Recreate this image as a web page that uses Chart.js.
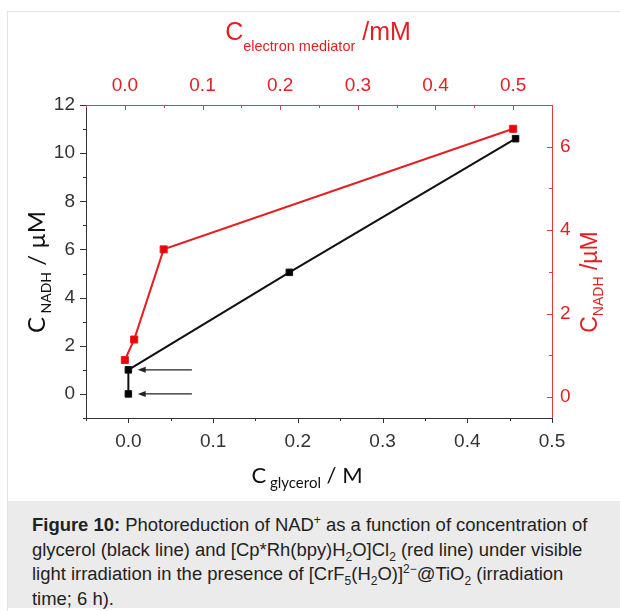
<!DOCTYPE html>
<html>
<head>
<meta charset="utf-8">
<script src="https://cdn.jsdelivr.net/npm/chart.js@4.4.1/dist/chart.umd.min.js"></script>
<style>
  body { margin: 0; background: #fff; width: 620px; height: 611px; position: relative; overflow: hidden;
         font-family: "Liberation Sans", Arial, sans-serif; }
  #frame { position: absolute; left: 7px; top: 11px; width: 620px; height: 600px;
           border-left: 1px solid #e2e2e2; border-top: 1px solid #e2e2e2; }
  #chartBox { position: absolute; left: 0; top: 0; width: 620px; height: 500px; }
  #caption { position: absolute; left: 8px; top: 501px; width: 612px; height: 107px; background: #ebebeb;
             box-sizing: border-box; padding: 12px 0 0 24px; font-size: 18.45px; line-height: 24.5px;
             color: #222; white-space: nowrap; }
  #caption sub, #caption sup { font-size: 12px; line-height: 0; }
</style>
</head>
<body>
<div id="frame"></div>
<div id="chartBox"><canvas id="grafico" width="620" height="500"></canvas></div>
<div id="caption"><b>Figure 10:</b> Photoreduction of NAD<sup>+</sup> as a function of concentration of<br>glycerol (black line) and [Cp*Rh(bpy)H<sub>2</sub>O]Cl<sub>2</sub> (red line) under visible<br>light irradiation in the presence of [CrF<sub>5</sub>(H<sub>2</sub>O)]<sup>2&minus;</sup>@TiO<sub>2</sub> (irradiation<br>time; 6 h).</div>
<script>
// dados
const glycerolConc = [0, 0, 0.19, 0.457];      // M (eixo de baixo)
const nadhGlycerol = [0, 1.0, 5.05, 10.6];      // uM (eixo esquerdo)
const mediatorConc = [0, 0.012, 0.05, 0.5];     // mM (eixo de cima)
const nadhMediator = [0.89, 1.38, 3.54, 6.43];  // uM (eixo direito)

const glycerolTicks = [0, 0.1, 0.2, 0.3, 0.4, 0.5];
const glycerolMinor = [-0.05, 0.05, 0.15, 0.25, 0.35, 0.45];
const mediatorTicks = [0, 0.1, 0.2, 0.3, 0.4, 0.5];
const mediatorMinor = [-0.05, 0.05, 0.15, 0.25, 0.35, 0.45, 0.55];
const nadhLeftTicks = [0, 2, 4, 6, 8, 10, 12];
const nadhLeftMinor = [-1, 1, 3, 5, 7, 9, 11];
const nadhRightTicks = [0, 2, 4, 6];
const nadhRightMinor = [1, 3, 5, 7];

// setas apontando para os dois primeiros pontos pretos
const arrowRows = [1, 0];
const arrowStart = 0.075;
const arrowEnd = 0.011;

const RED = 'rgb(228,30,34)';
const RED_AXIS = 'rgb(222,60,60)';
const DARK = '#333';
const ARIAL = '"Liberation Sans", Arial, sans-serif';
const CALIBRI = 'Lato, "Liberation Sans", sans-serif';

function pts(xs, ys) {
  return xs.map((x, i) => ({ x: x, y: ys[i] }));
}

function marcas(ctx, scale, values, len, dir, color) {
  const area = scale.chart.chartArea;
  ctx.save();
  ctx.strokeStyle = color;
  ctx.lineWidth = 1;
  ctx.beginPath();
  values.forEach(v => {
    const p = Math.round(scale.getPixelForValue(v)) + 0.5;
    if (scale.isHorizontal()) {
      const y0 = scale.position === 'bottom' ? area.bottom : area.top;
      ctx.moveTo(p, y0);
      ctx.lineTo(p, y0 + dir * len);
    } else {
      const x0 = scale.position === 'left' ? area.left : area.right;
      ctx.moveTo(x0, p);
      ctx.lineTo(x0 + dir * len, p);
    }
  });
  ctx.stroke();
  ctx.restore();
}

// texto com subscrito
function textoRico(ctx, parts, x, y, color) {
  let total = 0;
  parts.forEach(p => { ctx.font = p.font; total += ctx.measureText(p.t).width; });
  let cx = x - total / 2;
  ctx.fillStyle = color;
  ctx.textBaseline = 'alphabetic';
  ctx.textAlign = 'left';
  parts.forEach(p => {
    ctx.font = p.font;
    ctx.fillText(p.t, cx, y + (p.dy || 0));
    cx += ctx.measureText(p.t).width;
  });
}

const eixosPlugin = {
  id: 'eixos',
  afterDraw(chart) {
    const ctx = chart.ctx;
    const s = chart.scales;
    marcas(ctx, s.x, glycerolTicks, 5, 1, DARK);
    marcas(ctx, s.x, glycerolMinor, 3, 1, DARK);
    marcas(ctx, s.y, nadhLeftTicks, 6, -1, DARK);
    marcas(ctx, s.y, nadhLeftMinor, 3, -1, DARK);
    marcas(ctx, s.x2, mediatorTicks, 5, 1, RED_AXIS);
    marcas(ctx, s.x2, mediatorMinor, 3, 1, RED_AXIS);
    marcas(ctx, s.y2, nadhRightTicks, 5, -1, RED_AXIS);
    marcas(ctx, s.y2, nadhRightMinor, 3, -1, RED_AXIS);

    // setas
    ctx.save();
    ctx.strokeStyle = '#222';
    ctx.fillStyle = '#222';
    ctx.lineWidth = 1.2;
    arrowRows.forEach(v => {
      const py = s.y.getPixelForValue(v);
      const x1 = s.x.getPixelForValue(arrowStart);
      const x2 = s.x.getPixelForValue(arrowEnd);
      ctx.beginPath();
      ctx.moveTo(x1, py);
      ctx.lineTo(x2 + 6, py);
      ctx.stroke();
      ctx.beginPath();
      ctx.moveTo(x2, py);
      ctx.lineTo(x2 + 8, py - 3);
      ctx.lineTo(x2 + 8, py + 3);
      ctx.closePath();
      ctx.fill();
    });
    ctx.restore();

    // títulos dos eixos
    ctx.save();
    textoRico(ctx, [
      { t: 'C', font: '25px ' + ARIAL },
      { t: 'electron mediator', font: '14.5px ' + ARIAL, dy: 11 },
      { t: ' /mM', font: '25px ' + ARIAL }
    ], 318, 40, RED);

    textoRico(ctx, [
      { t: 'C', font: '22px ' + CALIBRI },
      { t: ' glycerol', font: '15px ' + CALIBRI, dy: 5 },
      { t: ' / M', font: '22px ' + CALIBRI }
    ], 307, 483, '#111');

    ctx.translate(45, 272);
    ctx.rotate(-Math.PI / 2);
    textoRico(ctx, [
      { t: 'C', font: '24px ' + CALIBRI },
      { t: ' NADH', font: '14px ' + CALIBRI, dy: 6 },
      { t: ' / \u00b5M', font: '24px ' + CALIBRI }
    ], 0, 0, '#111');
    ctx.restore();

    ctx.save();
    ctx.translate(597, 282);
    ctx.rotate(-Math.PI / 2);
    textoRico(ctx, [
      { t: 'C', font: '23px ' + ARIAL },
      { t: 'NADH', font: '14px ' + ARIAL, dy: 6 },
      { t: ' /\u00b5M', font: '23px ' + ARIAL }
    ], 0, 0, RED);
    ctx.restore();
  }
};

const tickFont = { size: 19, family: ARIAL };

const ctx = document.getElementById('grafico');

var grafico = new Chart(ctx, {
  type: 'scatter',
  data: {
    datasets: [{
      data: pts(glycerolConc, nadhGlycerol),
      xAxisID: 'x',
      yAxisID: 'y',
      showLine: true,
      borderColor: '#111',
      backgroundColor: '#000',
      borderWidth: 2,
      pointStyle: 'rect',
      pointRadius: 4.6,
      pointBorderWidth: 1
    }, {
      data: pts(mediatorConc, nadhMediator),
      xAxisID: 'x2',
      yAxisID: 'y2',
      showLine: true,
      borderColor: RED,
      backgroundColor: 'rgb(240,0,0)',
      borderWidth: 2,
      pointStyle: 'rect',
      pointRadius: 5,
      pointBorderWidth: 1
    }]
  },
  options: {
    responsive: false,
    devicePixelRatio: 1,
    animation: false,
    events: [],
    layout: { padding: 0 },
    plugins: { legend: { display: false }, tooltip: { enabled: false } },
    scales: {
      x: {
        type: 'linear', position: 'bottom', min: -0.05, max: 0.5,
        afterBuildTicks: s => { s.ticks = glycerolTicks.map(v => ({ value: v })); },
        afterFit: s => { s.height = 82; },
        grid: { display: false, drawTicks: false },
        border: { display: true, color: DARK, width: 1 },
        ticks: { padding: 12, color: DARK, font: tickFont, maxRotation: 0, autoSkip: false,
                 callback: v => Number(v).toFixed(1) }
      },
      x2: {
        type: 'linear', position: 'top', min: -0.05, max: 0.55,
        afterBuildTicks: s => { s.ticks = mediatorTicks.map(v => ({ value: v })); },
        afterFit: s => { s.height = 105; },
        grid: { display: false, drawTicks: false },
        border: { display: true, color: RED_AXIS, width: 1 },
        ticks: { padding: 8, color: RED, font: tickFont, maxRotation: 0, autoSkip: false,
                 callback: v => Number(v).toFixed(1) }
      },
      y: {
        type: 'linear', position: 'left', min: -1, max: 12,
        afterBuildTicks: s => { s.ticks = nadhLeftTicks.map(v => ({ value: v })); },
        afterFit: s => { s.width = 86; },
        grid: { display: false, drawTicks: false },
        border: { display: true, color: DARK, width: 1 },
        ticks: { padding: 11, color: DARK, font: tickFont, autoSkip: false, callback: v => v }
      },
      y2: {
        type: 'linear', position: 'right', min: -0.5, max: 7,
        afterBuildTicks: s => { s.ticks = nadhRightTicks.map(v => ({ value: v })); },
        afterFit: s => { s.width = 68; },
        grid: { display: false, drawTicks: false },
        border: { display: true, color: RED_AXIS, width: 1 },
        ticks: { padding: 8, color: RED, font: tickFont, autoSkip: false, callback: v => v }
      }
    }
  },
  plugins: [eixosPlugin]
});
</script>
</body>
</html>
